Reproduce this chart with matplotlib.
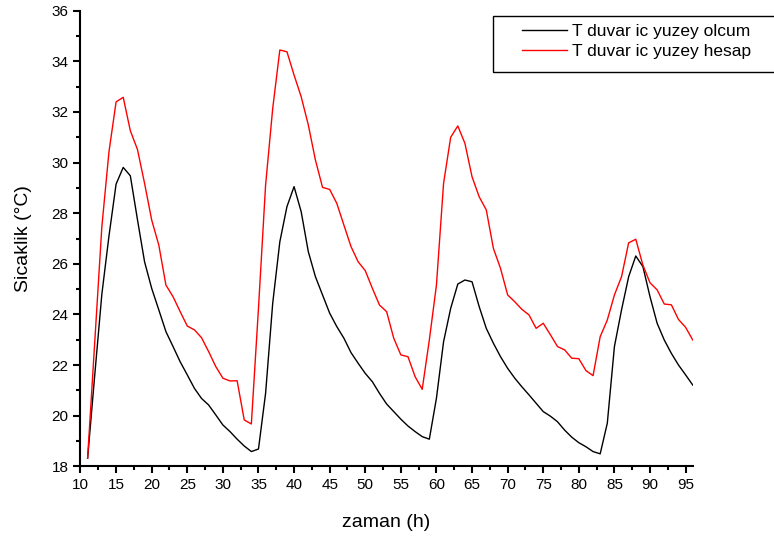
import matplotlib.pyplot as plt
from matplotlib.patches import Rectangle
from matplotlib.ticker import MultipleLocator
import numpy as np

plt.rcParams['font.family'] = ['Liberation Sans', 'DejaVu Sans']

# Data (hourly)
hours = np.arange(11, 97)

olcum = [18.32, 21.6, 24.8, 27.1, 29.15, 29.81, 29.48, 27.75, 26.08, 25.03,
         24.18, 23.32, 22.73, 22.13, 21.61, 21.08, 20.68, 20.42, 20.03, 19.63,
         19.37, 19.07, 18.8, 18.58, 18.68, 20.88, 24.44, 26.87, 28.26, 29.05,
         28.06, 26.48, 25.49, 24.77, 24.05, 23.52, 23.06, 22.49, 22.07, 21.67,
         21.34, 20.88, 20.46, 20.16, 19.86, 19.59, 19.37, 19.17, 19.07, 20.69,
         22.92, 24.24, 25.2, 25.36, 25.29, 24.31, 23.45, 22.86, 22.33, 21.87,
         21.48, 21.14, 20.82, 20.49, 20.16, 19.98, 19.76, 19.43, 19.15, 18.93,
         18.77, 18.58, 18.49, 19.7, 22.73, 24.18, 25.49, 26.31, 25.89, 24.7,
         23.65, 22.99, 22.46, 22.0, 21.61, 21.21]

hesap = [18.32, 22.9, 27.47, 30.43, 32.4, 32.58, 31.26, 30.52, 29.18, 27.73,
         26.74, 25.16, 24.7, 24.11, 23.54, 23.39, 23.08, 22.53, 21.94, 21.48,
         21.37, 21.38, 19.83, 19.67, 24.24, 29.11, 32.14, 34.45, 34.38, 33.46,
         32.6, 31.49, 30.1, 29.02, 28.94, 28.39, 27.53, 26.68, 26.08, 25.73,
         25.03, 24.37, 24.11, 23.06, 22.4, 22.33, 21.54, 21.04, 22.99, 25.16,
         29.18, 31.0, 31.45, 30.76, 29.44, 28.65, 28.13, 26.61, 25.82, 24.77,
         24.5, 24.2, 23.98, 23.45, 23.65, 23.2, 22.73, 22.6, 22.27, 22.25,
         21.78, 21.58, 23.12, 23.78, 24.77, 25.49, 26.83, 26.97, 25.95, 25.25,
         24.97, 24.41, 24.38, 23.8, 23.49, 22.99]

labels = ["T duvar ic yuzey olcum", "T duvar ic yuzey hesap"]

W, H = 774, 539
fig = plt.figure(figsize=(W / 100, H / 100), dpi=100)
ax = fig.add_axes([0.104, 0.135, 0.791, 0.845])

ax.plot(hours, olcum, color="black", lw=1.0, label=labels[0])
ax.plot(hours, hesap, color="red", lw=1.0, label=labels[1])

ax.set_xlim(10, 96)
ax.set_ylim(18, 36)
ax.xaxis.set_major_locator(MultipleLocator(5))
ax.xaxis.set_minor_locator(MultipleLocator(2.5))
ax.yaxis.set_major_locator(MultipleLocator(2))
ax.yaxis.set_minor_locator(MultipleLocator(1))

for side in ["top", "right"]:
    ax.spines[side].set_visible(False)
for side in ["left", "bottom"]:
    ax.spines[side].set_linewidth(1.5)

ax.tick_params(which="major", direction="out", length=5, width=1.5, labelsize=11)
ax.tick_params(which="minor", direction="out", length=3, width=1.5)

ax.set_xlabel("zaman (h)", fontsize=14, labelpad=16)
ax.set_ylabel("Sicaklik (°C)", fontsize=14, labelpad=14)

# legend frame runs off the right edge, as in the original
fig.patches.append(Rectangle((493 / W, 1 - 71.5 / H), 300 / W, 55.5 / H,
                             transform=fig.transFigure, fill=False,
                             edgecolor="black", lw=1.0))
ax.legend(loc="upper left", bbox_to_anchor=(522 / W, 1 - 24 / H),
          bbox_transform=fig.transFigure, fontsize=12.5, frameon=False,
          handlelength=2.6, handletextpad=0.3, borderpad=0, labelspacing=0.25,
          borderaxespad=0)

fig.savefig("out.png", dpi=100)
plt.close(fig)
